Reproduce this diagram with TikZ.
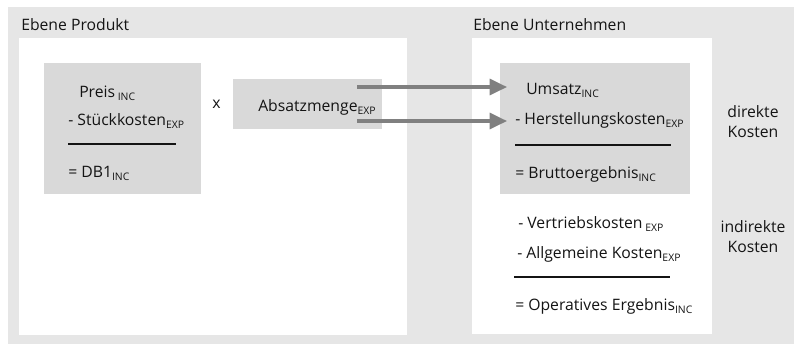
\documentclass[tikz,border=0pt]{standalone}
\usepackage{fontspec}
\setmainfont{Open Sans}
\usetikzlibrary{positioning}
\usetikzlibrary{arrows.meta}
\definecolor{cframe}{HTML}{E6E6E6}
\definecolor{cbox}{HTML}{D9D9D9}
\definecolor{carrow}{HTML}{808080}
\definecolor{ctext}{HTML}{141414}
\newcommand{\subtag}[1]{\raisebox{-2.8pt}{\fontsize{7.8}{8}\selectfont #1}}

\begin{document}
\begin{tikzpicture}[x=0.75pt, y=-0.75pt]
    \tikzset{
        frame/.style={fill=cframe},
        panel/.style={fill=white},
        calcbox/.style={fill=cbox},
        label/.style={anchor=base west, inner sep=0pt, font=\fontsize{11.8}{15}\selectfont, text=ctext},
        note/.style={anchor=center, inner sep=0pt, align=center, font=\fontsize{11.8}{15}\selectfont, text=ctext},
        rule/.style={draw=ctext, line width=0.8pt},
        flow/.style={draw=carrow, line width=2.4pt, -{Triangle[length=13pt, width=12pt]}}
    }
    \useasboundingbox (0,0) rectangle (794,344);

    \fill[frame] (8,7) rectangle (794,344);
    \fill[panel] (19,38) rectangle (407,335);
    \fill[panel] (472,38) rectangle (712,334);
    \fill[calcbox] (44,63) rectangle (201,194);
    \fill[calcbox] (233,79) rectangle (382,129);
    \fill[calcbox] (500,63) rectangle (690,194);

    \node[label] (title_produkt) at (21,30.5) {Ebene Produkt};
    \node[label] (title_unternehmen) at (473,30.5) {Ebene Unternehmen};

    \node[label] (preis) at (79,97) {Preis\,\subtag{INC}};
    \node[label] (stueck) at (68,125) {- Stückkosten\subtag{EXP}};
    \path[rule] (68,144) -- (176,144);
    \node[label] (db1) at (68,177) {= DB1\subtag{INC}};

    \node[label] (mal) at (212,108) {x};
    \node[label] (absatz) at (258,111) {Absatzmenge\subtag{EXP}};

    \node[label] (umsatz) at (526,94) {Umsatz\subtag{INC}};
    \node[label] (herst) at (515,124) {- Herstellungskosten\subtag{EXP}};
    \path[rule] (515,145) -- (671,145);
    \node[label] (brutto) at (515,178) {= Bruttoergebnis\subtag{INC}};

    \node[label] (vertrieb) at (518,228) {- Vertriebskosten\,\subtag{EXP}};
    \node[label] (allg) at (517,258) {- Allgemeine Kosten\subtag{EXP}};
    \path[rule] (514,277) -- (670,277);
    \node[label] (operativ) at (515,310) {= Operatives Ergebnis\subtag{INC}};

    \node[note] (direkt) at (753,122) {direkte\\Kosten};
    \node[note] (indirekt) at (753,237) {indirekte\\Kosten};

    \coordinate (out_top) at (357,87);
    \coordinate (out_bottom) at (357,121);
    \coordinate (in_top) at (507,87);
    \coordinate (in_bottom) at (507,121);
    \path[flow] (out_top) -- (in_top);
    \path[flow] (out_bottom) -- (in_bottom);
\end{tikzpicture}
\end{document}
